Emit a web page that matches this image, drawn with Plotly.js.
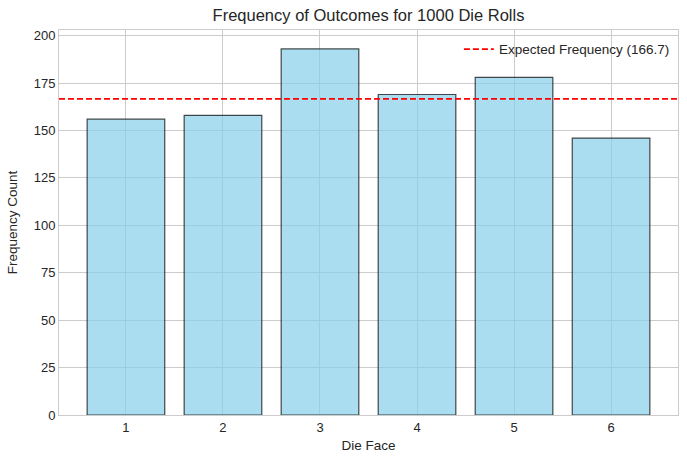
<!DOCTYPE html>
<html>
<head>
<meta charset="utf-8">
<script src="https://cdn.plot.ly/plotly-3.0.1.min.js"></script>
<style>html,body{margin:0;padding:0;background:#fff;}#chart{width:687px;height:463px;}</style>
</head>
<body>
<div id="chart"></div>
<script>
const faces = [1, 2, 3, 4, 5, 6];
const counts = [156, 158, 193, 169, 178, 146];
const expected = 1000 / 6;
const xRange = [0.31, 6.69];
const yTicks = [0, 25, 50, 75, 100, 125, 150, 175, 200];

const font = "Liberation Sans, Arial, sans-serif";

const traces = [
  {
    type: 'bar',
    x: faces,
    y: counts,
    width: 0.8,
    marker: {color: 'rgba(135,206,235,0.7)', line: {color: 'rgba(0,0,0,0.7)', width: 1.2}},
    showlegend: false,
    hoverinfo: 'x+y'
  },
  {
    type: 'scatter',
    mode: 'lines',
    x: xRange,
    y: [expected, expected],
    line: {color: 'red', dash: '6px,3px', width: 1.6},
    name: 'Expected Frequency (' + expected.toFixed(1) + ')',
    showlegend: true
  }
];

const layout = {
  width: 687, height: 463,
  margin: {l: 59, r: 9, t: 30, b: 48},
  paper_bgcolor: '#fff', plot_bgcolor: '#fff',
  font: {family: font, color: '#262626', size: 13},
  title: {text: 'Frequency of Outcomes for 1000 Die Rolls', font: {size: 16.5, color: '#262626'}, xref: 'paper', x: 0.5, xanchor: 'center', yref: 'container', y: 0.967, yanchor: 'middle'},
  xaxis: {
    range: xRange, tickvals: faces, ticktext: faces.map(String),
    showgrid: true, gridcolor: '#cccccc', gridwidth: 1,
    zeroline: false, showline: true, linecolor: '#cccccc', mirror: true,
    ticks: '', tickfont: {size: 13},
    title: {text: 'Die Face', font: {size: 13.5}, standoff: 6}
  },
  yaxis: {
    range: [0, 203], tickvals: yTicks,
    showgrid: true, gridcolor: '#cccccc', gridwidth: 1,
    zeroline: false, showline: true, linecolor: '#cccccc', mirror: true,
    ticks: '', tickfont: {size: 13},
    title: {text: 'Frequency Count', font: {size: 13.5}, standoff: 12}
  },
  legend: {x: 0.995, y: 0.99, xanchor: 'right', yanchor: 'top', bgcolor: 'rgba(255,255,255,0)', font: {size: 13.5}},
  bargap: 0.2
};

Plotly.newPlot('chart', traces, layout, {displayModeBar: false, staticPlot: true});
</script>
</body>
</html>
